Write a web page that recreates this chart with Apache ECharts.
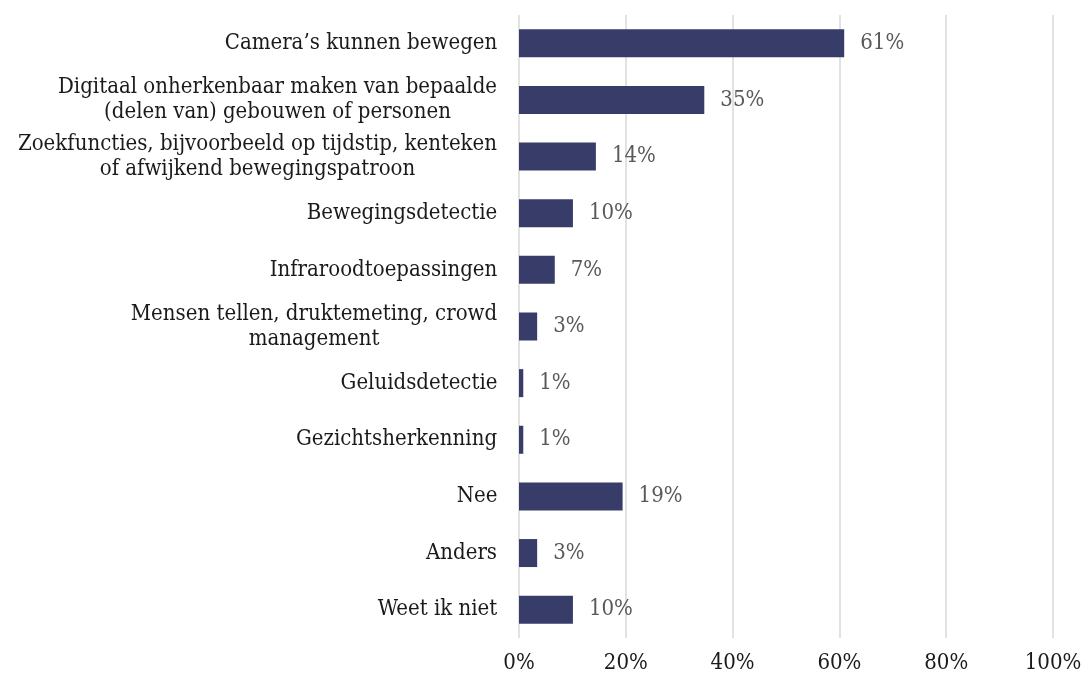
<!DOCTYPE html>
<html>
<head>
<meta charset="utf-8">
<script src="https://cdn.jsdelivr.net/npm/echarts@6/dist/echarts.min.js"></script>
<style>
  html, body { margin: 0; padding: 0; background: #fff; }
  #chart { width: 1085px; height: 681px; }
</style>
</head>
<body>
<div id="chart"></div>
<script>
// categories top to bottom, long ones split the way the picture wraps them
const categories = [
  'Camera\u2019s kunnen bewegen',
  'Digitaal onherkenbaar maken van bepaalde\n(delen van) gebouwen of personen',
  'Zoekfuncties, bijvoorbeeld op tijdstip, kenteken\nof afwijkend bewegingspatroon',
  'Bewegingsdetectie',
  'Infraroodtoepassingen',
  'Mensen tellen, druktemeting, crowd\nmanagement',
  'Geluidsdetectie',
  'Gezichtsherkenning',
  'Nee',
  'Anders',
  'Weet ik niet'
]
const values = [60.9, 34.7, 14.4, 10.1, 6.7, 3.4, 0.8, 0.8, 19.4, 3.4, 10.1]
const xTicks = [0, 20, 40, 60, 80, 100]

const FONT = '"DejaVu Serif Condensed", "DejaVu Serif", serif'
const FONT_SIZE = 22

// measure each label so multi-line labels can be centred line by line
const ctx = document.createElement('canvas').getContext('2d')
ctx.font = FONT_SIZE + 'px ' + FONT
const rich = {}
categories.forEach((c, i) => {
  const w = Math.max(...c.split('\n').map(s => ctx.measureText(s).width))
  rich['l' + i] = { width: Math.ceil(w) + 1, align: 'center', fontFamily: FONT, fontSize: FONT_SIZE, color: '#1a1a1a', lineHeight: 25 }
})

const chart = echarts.init(document.getElementById('chart'))
chart.setOption({
  animation: false,
  grid: { left: 519, right: 32, top: 15, bottom: 43 },
  xAxis: {
    type: 'value',
    min: xTicks[0],
    max: xTicks[xTicks.length - 1],
    interval: xTicks[1] - xTicks[0],
    axisLine: { show: false },
    axisTick: { show: false },
    splitLine: { lineStyle: { color: '#d9d9d9', width: 1.5 } },
    axisLabel: {
      formatter: v => v + '%',
      color: '#1a1a1a',
      fontFamily: FONT,
      fontSize: FONT_SIZE,
      margin: 14
    }
  },
  yAxis: {
    type: 'category',
    inverse: true,
    data: categories,
    axisLine: { show: false },
    axisTick: { show: false },
    axisLabel: {
      margin: 21,
      fontFamily: FONT,
      fontSize: FONT_SIZE,
      color: '#1a1a1a',
      lineHeight: 25,
      formatter: v => {
        const idx = categories.indexOf(v)
        return v.split('\n').map(s => '{l' + idx + '|' + s + '}').join('\n')
      },
      rich: rich
    }
  },
  series: [{
    type: 'bar',
    data: values,
    barWidth: 28,
    itemStyle: { color: '#383c68' },
    label: {
      show: true,
      position: 'right',
      distance: 16,
      formatter: p => Math.round(p.value) + '%',
      color: '#595959',
      fontFamily: FONT,
      fontSize: FONT_SIZE
    }
  }]
})
</script>
</body>
</html>
